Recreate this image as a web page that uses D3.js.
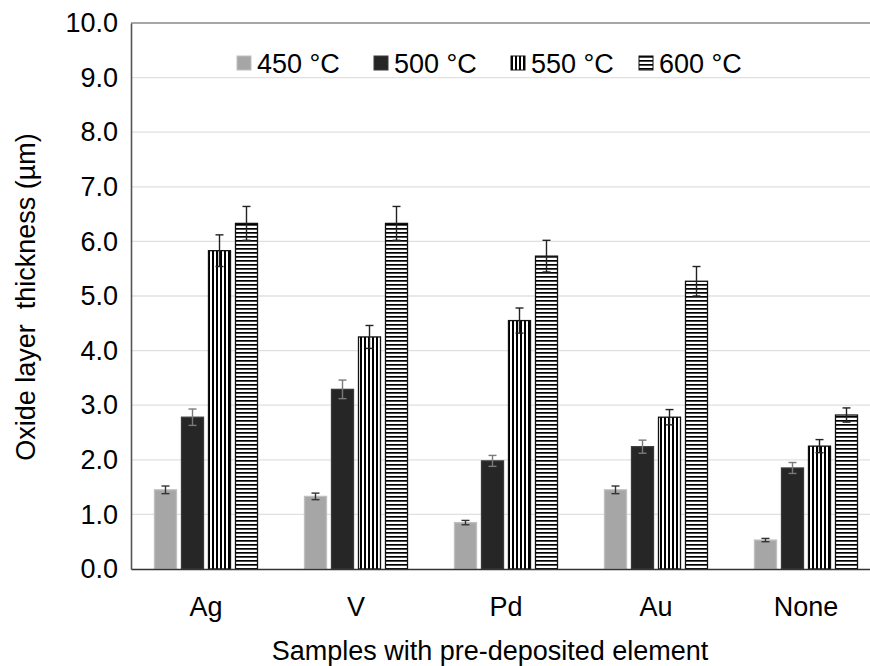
<!DOCTYPE html>
<html>
<head>
<meta charset="utf-8">
<script src="https://cdn.jsdelivr.net/npm/d3@7/dist/d3.min.js"></script>
<style>
  body { margin: 0; background: #fff; }
  text { font-family: "Liberation Sans", Arial, sans-serif; fill: #000; }
</style>
</head>
<body>
<div id="chart"></div>
<script>
// data
var samples = ["Ag", "V", "Pd", "Au", "None"];
var temps = ["450 °C", "500 °C", "550 °C", "600 °C"];
var t450 = [1.45, 1.33, 0.85, 1.45, 0.53];
var t500 = [2.78, 3.29, 1.98, 2.24, 1.85];
var t550 = [5.83, 4.25, 4.55, 2.78, 2.25];
var t600 = [6.33, 6.33, 5.73, 5.27, 2.82];
var e450 = [0.07, 0.06, 0.04, 0.07, 0.03];
var e500 = [0.15, 0.17, 0.10, 0.12, 0.10];
var e550 = [0.29, 0.21, 0.23, 0.14, 0.12];
var e600 = [0.31, 0.31, 0.29, 0.27, 0.13];
var yTicks = [0, 1, 2, 3, 4, 5, 6, 7, 8, 9, 10];

var values = [t450, t500, t550, t600];
var errors = [e450, e500, e550, e600];

var width = 870, height = 666;
var margin = {top: 23, left: 131, bottom: 97};
var plotRight = 881; // plot runs past the right edge of the picture
var fontSize = "27px";

var svg = d3.select("#chart")
    .append("svg")
    .attr("width", width)
    .attr("height", height);

// patterns for 550 and 600
var defs = svg.append("defs");
var pv = defs.append("pattern")
    .attr("id", "vert")
    .attr("patternUnits", "userSpaceOnUse")
    .attr("width", 4).attr("height", 4);
pv.append("rect").attr("width", 4).attr("height", 4).attr("fill", "#fff");
pv.append("rect").attr("width", 2).attr("height", 4).attr("fill", "#000");

var ph = defs.append("pattern")
    .attr("id", "horiz")
    .attr("patternUnits", "userSpaceOnUse")
    .attr("width", 4).attr("height", 4);
ph.append("rect").attr("width", 4).attr("height", 4).attr("fill", "#fff");
ph.append("rect").attr("width", 4).attr("height", 1.7).attr("fill", "#000");

var fills = ["#a6a6a6", "#262626", "url(#vert)", "url(#horiz)"];
var strokes = ["#bfbfbf", "#3a3a3a", "#111", "#111"];
var errColors = ["#333", "#7a7a7a", "#222", "#222"];

var x0 = d3.scaleBand()
    .domain(samples)
    .range([margin.left, plotRight]);

var x1 = d3.scaleBand()
    .domain(temps)
    .range([21, 129])
    .paddingInner(0.185)
    .paddingOuter(0.0925);

var y = d3.scaleLinear()
    .domain([0, 10])
    .range([height - margin.bottom, margin.top]);

// gridlines
svg.append("g")
    .selectAll("line")
    .data(yTicks.slice(1, -1))
    .enter()
    .append("line")
    .attr("x1", margin.left)
    .attr("x2", plotRight)
    .attr("y1", d => y(d))
    .attr("y2", d => y(d))
    .attr("stroke", "#e0e0e0")
    .attr("stroke-width", 1.3);

// top frame line
svg.append("line")
    .attr("x1", margin.left).attr("x2", plotRight)
    .attr("y1", y(10)).attr("y2", y(10))
    .attr("stroke", "#8a8a8a")
    .attr("stroke-width", 1.6);

// y axis
var leftAxis = d3.axisLeft(y)
    .tickValues(yTicks)
    .tickSize(0)
    .tickPadding(13)
    .tickFormat(d3.format(".1f"));

var yAxis = svg.append("g")
    .attr("transform", `translate(${margin.left},0)`)
    .call(leftAxis);
yAxis.select(".domain").attr("stroke", "#555").attr("stroke-width", 1.6);
yAxis.selectAll("text")
    .style("font-size", fontSize)
    .attr("fill", "#000");

// bars
var groups = svg.append("g")
    .selectAll("g")
    .data(temps)
    .enter()
    .append("g");

groups.each(function(t, j) {
    var g = d3.select(this);
    var rows = samples.map((s, i) => ({s: s, v: values[j][i], e: errors[j][i]}));

    g.selectAll("rect")
        .data(rows)
        .enter()
        .append("rect")
        .attr("x", d => x0(d.s) + x1(t))
        .attr("y", d => y(d.v))
        .attr("width", x1.bandwidth())
        .attr("height", d => y(0) - y(d.v))
        .attr("fill", fills[j])
        .attr("stroke", strokes[j])
        .attr("stroke-width", 1.3);

    var eb = g.selectAll(".err")
        .data(rows)
        .enter()
        .append("g")
        .attr("class", "err")
        .attr("stroke", errColors[j])
        .attr("stroke-width", 1.4);
    var cx = d => x0(d.s) + x1(t) + x1.bandwidth() / 2;
    eb.append("line")
        .attr("x1", cx).attr("x2", cx)
        .attr("y1", d => y(d.v - d.e)).attr("y2", d => y(d.v + d.e));
    eb.append("line")
        .attr("x1", d => cx(d) - 4).attr("x2", d => cx(d) + 4)
        .attr("y1", d => y(d.v + d.e)).attr("y2", d => y(d.v + d.e));
    eb.append("line")
        .attr("x1", d => cx(d) - 4).attr("x2", d => cx(d) + 4)
        .attr("y1", d => y(d.v - d.e)).attr("y2", d => y(d.v - d.e));
});

// x axis
var bottomAxis = d3.axisBottom(x0).tickSize(0).tickPadding(28);
var xAxis = svg.append("g")
    .attr("transform", `translate(0,${y(0)})`)
    .call(bottomAxis);
xAxis.select(".domain").attr("stroke", "#333").attr("stroke-width", 1.6);
xAxis.selectAll("text")
    .style("font-size", fontSize)
    .attr("fill", "#000");

// axis titles
svg.append("text")
    .attr("x", 490)
    .attr("y", 660)
    .attr("text-anchor", "middle")
    .style("font-size", fontSize)
    .text("Samples with pre-deposited element");

svg.append("text")
    .attr("transform", "translate(35,297) rotate(-90)")
    .attr("text-anchor", "middle")
    .style("font-size", fontSize)
    .style("white-space", "pre")
    .text("Oxide layer  thickness (µm)");

// legend
var legendX = [237, 374, 511, 639];
var legend = svg.append("g")
    .selectAll("g")
    .data(temps)
    .enter()
    .append("g")
    .attr("transform", (d, i) => `translate(${legendX[i]},56)`);

legend.append("rect")
    .attr("width", 14).attr("height", 14)
    .attr("fill", (d, i) => fills[i])
    .attr("stroke", (d, i) => strokes[i])
    .attr("stroke-width", 1);

legend.append("text")
    .attr("x", 20)
    .attr("y", 17)
    .style("font-size", fontSize)
    .text(d => d);
</script>
</body>
</html>
